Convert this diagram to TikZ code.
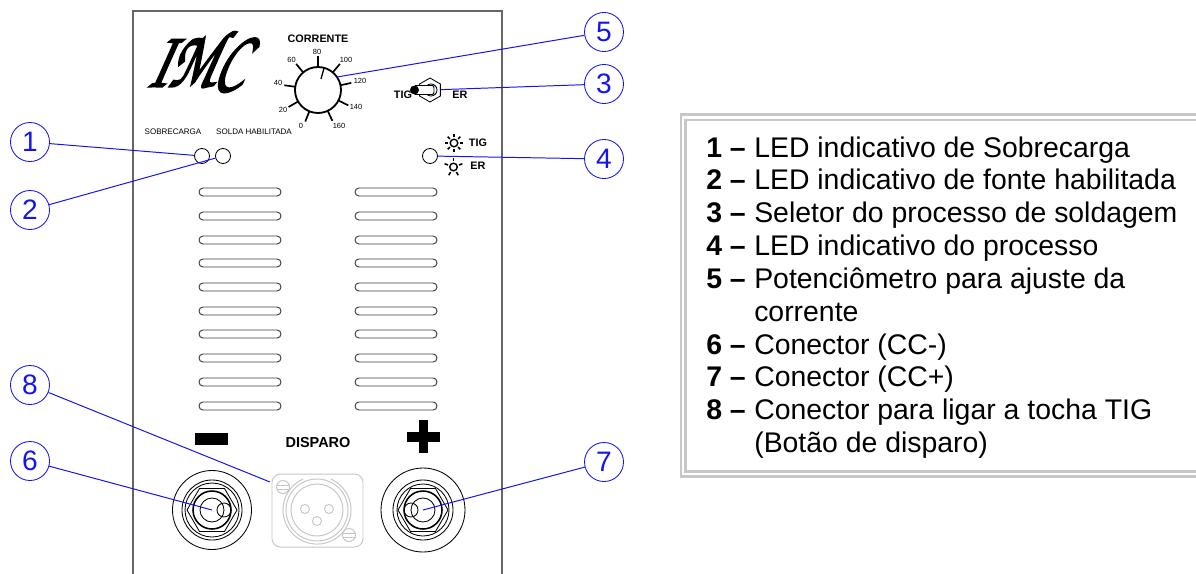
\documentclass[tikz,border=0pt]{standalone}
\usepackage{fontspec}
\usetikzlibrary{shapes.geometric}
\setmainfont{Liberation Sans}
\definecolor{leadblue}{RGB}{20,20,240}
\newcommand{\heavytext}[1]{\special{pdf:code 2 Tr 1.6 w}#1\special{pdf:code 0 Tr 1 w}}
\tikzset{
  numcirc/.style={circle,draw=leadblue,text=leadblue,line width=0.6pt,minimum size=0.975cm,inner sep=0pt,font=\fontsize{20}{20}\selectfont},
  led/.style={circle,draw=black,line width=0.6pt,minimum size=0.375cm,inner sep=0pt},
  leader/.style={draw=leadblue,line width=0.7pt},
  vent/.style={draw=black!75,line width=0.7pt,rounded corners=2.8pt},
  ring/.style={draw=black,line width=0.6pt},
  xlr/.style={draw=black!22,line width=0.7pt},
  frame/.style={draw=black!22,line width=2pt},
  logoletters/.style={inner sep=0pt,xscale=0.68,xslant=0.4,transform shape,font=\fontsize{58}{58}\usefont{T1}{pzc}{mb}{it}},
  tiny/.style={inner sep=0pt,font=\fontsize{5.7}{6}\selectfont},
  dial/.style={inner sep=0pt,font=\fontsize{5.3}{6}\selectfont},
  panel/.style={inner sep=0pt,font=\fontsize{7.7}{8}\selectfont\bfseries},
  itemnum/.style={anchor=base west,inner sep=0pt,font=\fontsize{20.2}{21}\selectfont\bfseries},
  itemtxt/.style={anchor=base west,inner sep=0pt,font=\fontsize{20.2}{21}\selectfont},
}
\begin{document}
\begin{tikzpicture}[x=0.025cm,y=-0.025cm]
\clip (0,0) rectangle (1196,573);
\fill[white] (0,0) rectangle (1196,573);
% panel
\draw[draw=black!60,line width=1pt] (133,600)--(133,11)--(502,11)--(502,600);
\node[logoletters] (logo) at (201,58) {\heavytext{IMC}};
% knob
\node[panel] (corrente) at (318,39) {CORRENTE};
\draw[line width=1.3pt] (318,90) circle (23);
\draw[line width=0.9pt] (321,79)--(324,68);
\foreach \a in {248,210,172,130,90,50,12,333,295}
  \draw[line width=1.2pt] ({318+23*cos(\a)},{90-23*sin(\a)})--({318+34*cos(\a)},{90-34*sin(\a)});
\foreach \x/\y/\t in {301/126/0,283/110/20,278/83/40,291.5/60/60,317/51.5/80,346/60/100,360/81/120,356/107/140,339/125.5/160}
  \node[dial] (dial\t) at (\x,\y) {\t};
% toggle
\node[panel] (tigsw) at (403,95) {TIG};
\node[panel] (ersw) at (460,95) {ER};
\node[draw=black,line width=0.6pt,regular polygon,regular polygon sides=6,minimum size=0.6cm,inner sep=0pt,shape border rotate=30] (hexsw) at (430,90) {};
\draw[line width=0.6pt] (431,90) circle (6);
\draw[line width=0.7pt,fill=white,rounded corners=1.5pt] (415,85.5)--(434,85.5)--(434,94.5)--(415,94.5);
\fill (414.5,90) circle (4.5);
% LEDs
\node[tiny] (sobre) at (173,132) {SOBRECARGA};
\node[tiny] (solda) at (254,132) {SOLDA HABILITADA};
\node[led] (led1) at (202,156) {};
\node[led] (led2) at (223,156) {};
\node[led] (led3) at (430,156) {};
\draw[line width=1pt] (454,143) circle (3.8);
\foreach \a in {0,45,...,315}
  \draw[line width=1.1pt] ({454+5.8*cos(\a)},{143+5.8*sin(\a)})--({454+9*cos(\a)},{143+9*sin(\a)});
\draw[line width=1pt] (453.5,167) circle (3.8);
\foreach \a in {270,200,340,60,120}
  \draw[line width=1.1pt] ({453.5+5.8*cos(\a)},{167+5.8*sin(\a)})--({453.5+9.5*cos(\a)},{167+9.5*sin(\a)});
\node[panel] (tigled) at (478,143) {TIG};
\node[panel] (erled) at (478,166) {ER};
% vents
\foreach \y in {192,216,240,263,287,311,334,358,382,406} {
  \draw[vent] (199,\y-4) rectangle (281,\y+4);
  \draw[vent] (355,\y-4) rectangle (437,\y+4);
}
% polarity
\fill (195,433) rectangle (228,445);
\fill (407,432) rectangle (440,442);
\fill (419,420) rectangle (428,453);
\node[inner sep=0pt,font=\fontsize{10.3}{11}\selectfont\bfseries] (disparo) at (318,443) {DISPARO};
% left connector
\draw[ring] (212,510) circle (39.5);
\draw[ring] (212,510) circle (30);
\draw[ring] (212,510) circle (27);
\draw[line width=1.1pt] (212,510) circle (19);
\draw[ring] (212,510) circle (12);
\draw[ring] (224,510) circle (7);
\draw[ring] (187,510)--(199.5,488.5)--(224.5,488.5)--(237,510)--(224.5,531.5)--(199.5,531.5)--cycle;
\coordinate (conn6) at (212,510);
% right connector
\draw[ring] (423,510) circle (42);
\draw[ring] (423,510) circle (30);
\draw[ring] (423,510) circle (26);
\draw[line width=1.1pt] (423,510) circle (19);
\draw[ring] (423,510) circle (12);
\draw[ring] (411,510) circle (7);
\draw[ring] (398,510)--(410.5,488.5)--(435.5,488.5)--(448,510)--(435.5,531.5)--(410.5,531.5)--cycle;
\coordinate (conn7) at (423,510);
% xlr
\draw[xlr,rounded corners=6pt] (272,474) rectangle (363,547);
\draw[xlr] (303.2,479) arc (246:-66:34);
\draw[xlr] (317,510) circle (31);
\draw[xlr] (317,510) circle (26);
\draw[xlr] (305,509) circle (4.5);
\draw[xlr] (329,509) circle (4.5);
\draw[xlr] (317,521) circle (4.5);
\draw[xlr] (283,487) circle (6.5);
\draw[xlr] (276.5,485)--(289.5,485);
\draw[xlr] (276.5,489)--(289.5,489);
\draw[xlr] (349,535) circle (6.5);
\draw[xlr] (342.5,533)--(355.5,533);
\draw[xlr] (342.5,537)--(355.5,537);
\coordinate (conn8) at (270,482);
% numbers
\node[numcirc] (num1) at (30,142) {1};
\node[numcirc] (num2) at (30,210) {2};
\node[numcirc] (num3) at (604,84) {3};
\node[numcirc] (num4) at (604,159) {4};
\node[numcirc] (num5) at (604,32) {5};
\node[numcirc] (num6) at (30,461) {6};
\node[numcirc] (num7) at (604,462) {7};
\node[numcirc] (num8) at (30,385) {8};
\draw[leader] (num1)--(led1);
\draw[leader] (num2)--(led2);
\draw[leader] (num3)--(hexsw);
\draw[leader] (num4)--(led3);
\draw[leader] (num5)--(337,77);
\draw[leader] (num6)--(conn6);
\draw[leader] (num7)--(conn7);
\draw[leader] (num8)--(conn8);
% legend
\draw[frame] (681,114.7) rectangle (1230,476.5);
\draw[frame] (685.5,120) rectangle (1230,471.5);
\node[itemnum] (n1) at (706,157) {1 –};
\node[itemtxt] (t1) at (754,157) {LED indicativo de Sobrecarga};
\node[itemnum] (n2) at (706,189) {2 –};
\node[itemtxt] (t2) at (754,189) {LED indicativo de fonte habilitada};
\node[itemnum] (n3) at (706,222) {3 –};
\node[itemtxt] (t3) at (754,222) {Seletor do processo de soldagem};
\node[itemnum] (n4) at (706,255) {4 –};
\node[itemtxt] (t4) at (754,255) {LED indicativo do processo};
\node[itemnum] (n5) at (706,288) {5 –};
\node[itemtxt] (t5) at (754,288) {Potenciômetro para ajuste da};
\node[itemtxt] (t5b) at (754,321) {corrente};
\node[itemnum] (n6) at (706,354) {6 –};
\node[itemtxt] (t6) at (754,354) {Conector (CC-)};
\node[itemnum] (n7) at (706,386) {7 –};
\node[itemtxt] (t7) at (754,386) {Conector (CC+)};
\node[itemnum] (n8) at (706,419) {8 –};
\node[itemtxt] (t8) at (754,419) {Conector para ligar a tocha TIG};
\node[itemtxt] (t8b) at (754,452) {(Botão de disparo)};
\end{tikzpicture}
\end{document}
